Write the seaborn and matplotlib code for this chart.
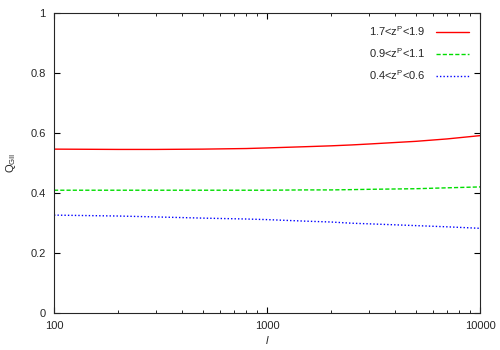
import matplotlib
matplotlib.use("Agg")
import matplotlib.pyplot as plt
import numpy as np
import pandas as pd
import seaborn as sns
from matplotlib.ticker import LogLocator, FixedLocator

# values
ell = [100, 200, 300, 500, 800, 1000, 1500, 2000, 2500, 3000, 5000, 7000, 10000]
q_high = [0.546, 0.545, 0.545, 0.546, 0.548, 0.550, 0.554, 0.557, 0.560, 0.563, 0.572, 0.580, 0.591]
q_mid = [0.409, 0.409, 0.409, 0.409, 0.409, 0.409, 0.410, 0.410, 0.411, 0.412, 0.414, 0.417, 0.420]
q_low = [0.326, 0.323, 0.320, 0.316, 0.313, 0.311, 0.306, 0.303, 0.299, 0.297, 0.291, 0.287, 0.282]
labels = [r"1.7<z$^{\rm P}$<1.9", r"0.9<z$^{\rm P}$<1.1", r"0.4<z$^{\rm P}$<0.6"]
colors = ["#ff0000", "#00dd00", "#0000ff"]
dashes = [None, (3, 1.5), (1, 1.5)]

sns.set_style("ticks")
plt.rcParams["font.family"] = ["Liberation Sans", "DejaVu Sans"]
plt.rcParams["mathtext.fontset"] = "custom"
plt.rcParams["mathtext.rm"] = "Liberation Sans"
plt.rcParams["mathtext.it"] = "Liberation Sans:italic"

df = pd.DataFrame({
    "l": ell * 3,
    "Q": q_high + q_mid + q_low,
    "bin": [labels[0]] * len(ell) + [labels[1]] * len(ell) + [labels[2]] * len(ell),
})

fig = plt.figure(figsize=(5, 3.5), dpi=100)
ax = fig.add_axes([0.108, 0.106, 0.852, 0.857])

for lab, col, ds in zip(labels, colors, dashes):
    sub = df[df["bin"] == lab]
    sns.lineplot(data=sub, x="l", y="Q", color=col, lw=1.0, ax=ax, label=lab)
    if ds is not None:
        ax.lines[-1].set_dashes(ds)

ax.set_xscale("log")
ax.set_xlim(100, 10000)
ax.set_ylim(0, 1)
ax.yaxis.set_major_locator(FixedLocator([0, 0.2, 0.4, 0.6, 0.8, 1.0]))
ax.set_yticklabels(["0", "0.2", "0.4", "0.6", "0.8", "1"])
ax.xaxis.set_major_locator(FixedLocator([100, 1000, 10000]))
ax.set_xticklabels(["100", "1000", "10000"])
ax.xaxis.set_minor_locator(LogLocator(base=10, subs=np.arange(2, 10)))
ax.tick_params(direction="in", which="both", top=True, right=True, labelsize=8, color="black")
ax.tick_params(which="major", length=4, pad=6)
ax.tick_params(which="minor", length=2)
for s in ax.spines.values():
    s.set_linewidth(0.8)

ax.set_xlabel(r"$\it{l}$", fontsize=8, labelpad=2)
ax.set_ylabel(r"Q$_{\rm GII}$", fontsize=8, labelpad=9)

leg = ax.legend(loc="upper right", frameon=False, fontsize=8, markerfirst=False,
                handlelength=3.0, handletextpad=0.9, labelspacing=0.75,
                borderaxespad=0.6)

fig.savefig("out.png", dpi=100)
